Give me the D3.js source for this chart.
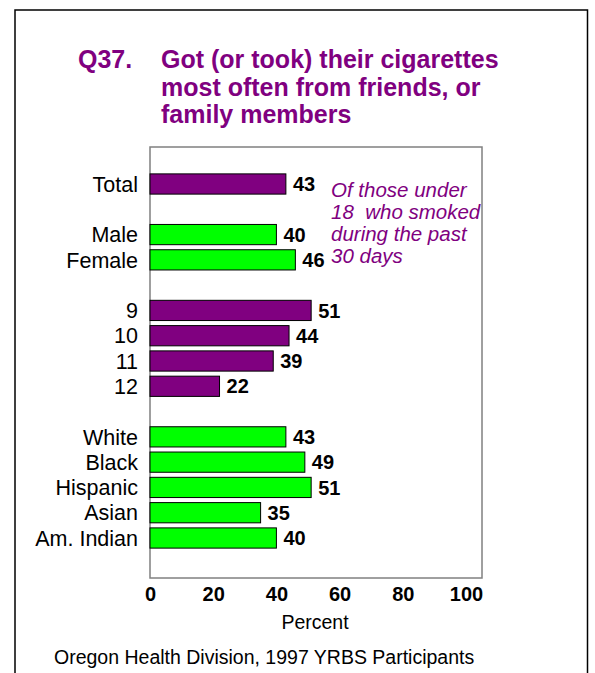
<!DOCTYPE html>
<html><head><meta charset="utf-8">
<script src="https://cdn.jsdelivr.net/npm/d3@7"></script>
<style>body{margin:0;background:#fff}svg{display:block}text{font-family:"Liberation Sans",Arial,sans-serif;white-space:pre}</style>
</head><body>
<svg id="c" width="595" height="673"></svg>
<script>
const categories = ["Total","","Male","Female","","9","10","11","12","","White","Black","Hispanic","Asian","Am. Indian"];
const values =     [43,null,40,46,null,51,44,39,22,null,43,49,51,35,40];
const groups =     ["p",null,"g","g",null,"p","p","p","p",null,"g","g","g","g","g"];
const xTicks = [0,20,40,60,80,100];
const titleNum = "Q37.";
const titleLines = ["Got (or took) their cigarettes","most often from friends, or","family members"];
const noteLines = ["Of those under","18  who smoked","during the past","30 days"];
const xTitle = "Percent";
const footer = "Oregon Health Division, 1997 YRBS Participants";

const purple = "#800080", green = "#00FF00";
const svg = d3.select("#c");

// outer frame
svg.append("rect").attr("x",15).attr("y",10).attr("width",572.5).attr("height",680)
  .attr("fill","none").attr("stroke","#000").attr("stroke-width",1.5);

// title
const tg = svg.append("g").attr("fill",purple).attr("font-weight","bold").attr("font-size",25);
tg.append("text").attr("x",78).attr("y",68).text(titleNum);
titleLines.forEach((t,i)=>{
  tg.append("text").attr("x",161).attr("y",68+i*27.5).text(t);
});

const plot = {l:150,r:482,t:147,b:578};
const x = d3.scaleLinear().domain([0,100]).range([plot.l,466]);
const keys = categories.map((c,i)=>i);
const step = 25.29;
const y = d3.scaleBand().domain(keys).range([184-step/2, 538+step/2]).paddingInner(0.2).paddingOuter(0.1);

svg.append("rect").attr("x",plot.l).attr("y",plot.t).attr("width",plot.r-plot.l).attr("height",plot.b-plot.t)
  .attr("fill","none").attr("stroke","#808080").attr("stroke-width",1.5);

const data = keys.filter(i=>values[i]!=null);
svg.append("g").selectAll("rect").data(data).join("rect")
  .attr("x",x(0)).attr("y",i=>y(i)).attr("width",i=>x(values[i])-x(0)).attr("height",y.bandwidth())
  .attr("fill",i=>groups[i]==="p"?purple:green).attr("stroke","#000").attr("stroke-width",1);

svg.append("g").selectAll("text.v").data(data).join("text")
  .attr("x",i=>x(values[i])+7).attr("y",i=>y(i)+y.bandwidth()/2).attr("dy","0.36em")
  .attr("font-weight","bold").attr("font-size",20).text(i=>values[i]);

svg.append("g").selectAll("text.c").data(data).join("text")
  .attr("x",138).attr("y",i=>y(i)+y.bandwidth()/2).attr("dy","0.36em").attr("text-anchor","end")
  .attr("font-size",21.5).text(i=>categories[i]);

// x axis
const ax = svg.append("g").attr("transform",`translate(0,${plot.b})`)
  .call(d3.axisBottom(x).tickValues(xTicks).tickSize(0).tickPadding(9));
ax.select(".domain").remove();
ax.selectAll("text").attr("font-size",20).attr("font-weight","bold").attr("fill","#000")
  .attr("font-family","Liberation Sans, Arial, sans-serif");

svg.append("text").attr("x",315).attr("y",629).attr("text-anchor","middle").attr("font-size",19.5).text(xTitle);
svg.append("text").attr("x",54).attr("y",664).attr("font-size",19.5).text(footer);

const ng = svg.append("g").attr("fill",purple).attr("font-style","italic").attr("font-size",20.5);
noteLines.forEach((t,i)=>ng.append("text").attr("x",331).attr("y",197+i*22).text(t));
</script>
</body></html>
